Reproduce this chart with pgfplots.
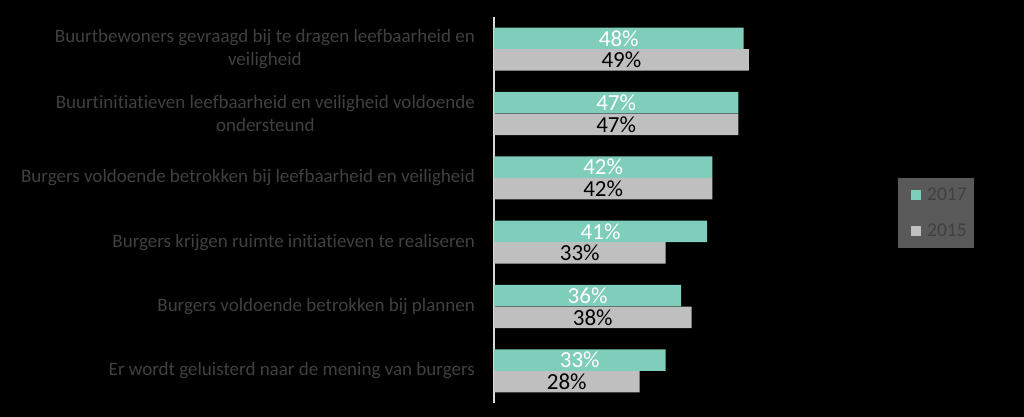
\documentclass[border=0pt]{standalone}
\usepackage{fontspec}
\setmainfont{Carlito}[Ligatures=CommonOff]
\usepackage{pgfplots}
\usepackage{pgfplotstable}
\pgfplotsset{compat=1.18}

\definecolor{c17}{RGB}{127,205,187}
\definecolor{c15}{RGB}{191,191,191}
\definecolor{lbl}{RGB}{64,64,64}
\definecolor{legbg}{RGB}{89,89,89}
\definecolor{axln}{RGB}{217,217,217}

\pgfplotstableread{
y  a   b
1  48  49
2  47  47
3  42  42
4  41  33
5  36  38
6  33  28
}\data

\pgfplotsset{
  sq legend/.style={legend image code/.code={%
    \fill[##1] (8pt,-5pt) rectangle (18pt,5pt);
    \path (0pt,0pt) (22pt,0pt);}},
}

\begin{document}
\begin{tikzpicture}
\fill[black] (0,0) rectangle (1024pt,417pt);
\begin{axis}[
  at={(494pt,14pt)}, anchor=south west,
  scale only axis, width=270.4pt, height=386pt,
  xmin=0, xmax=52, ymin=0.5, ymax=6.5, y dir=reverse,
  axis x line=none, axis y line*=left,
  axis line style={-, draw=axln, line width=1.6pt},
  ytick={1,2,3,4,5,6}, major tick length=0pt,
  yticklabels={{Buurtbewoners gevraagd bij te dragen leefbaarheid en\\veiligheid},
               {Buurtinitiatieven leefbaarheid en veiligheid voldoende\\ondersteund},
               {Burgers voldoende betrokken bij leefbaarheid en veiligheid},
               {Burgers krijgen ruimte initiatieven te realiseren},
               {Burgers voldoende betrokken bij plannen},
               {Er wordt geluisterd naar de mening van burgers}},
  yticklabel style={align=center, inner sep=0pt, xshift=-19pt, text=lbl,
                    font=\fontsize{19}{23}\selectfont},
  legend style={at={(1.494,0.583)}, anchor=north west, fill=legbg, draw=none,
                text=lbl, font=\fontsize{19.5}{22}\selectfont,
                inner xsep=5pt, inner ysep=8pt, row sep=18pt,
                legend cell align=left},
  clip=false,
]
\addplot[xbar, bar width=21.5pt, bar shift=0pt, fill=c17, draw=none, sq legend]
  table[x=a, y expr=\thisrow{y}-0.168]{\data};
\addlegendentry{2017}
\addplot[xbar, bar width=21.5pt, bar shift=0pt, fill=c15, draw=none, sq legend]
  table[x=b, y expr=\thisrow{y}+0.168]{\data};
\addlegendentry{2015}
\addplot[draw=none, mark=none, forget plot, point meta=explicit symbolic,
         nodes near coords={\pgfplotspointmeta\%},
         nodes near coords style={anchor=center, text=white, inner sep=0pt,
                                  font=\fontsize{23}{24}\selectfont}]
  table[x expr=\thisrow{a}/2, y expr=\thisrow{y}-0.168, meta=a]{\data};
\addplot[draw=none, mark=none, forget plot, point meta=explicit symbolic,
         nodes near coords={\pgfplotspointmeta\%},
         nodes near coords style={anchor=center, text=black, inner sep=0pt,
                                  font=\fontsize{23}{24}\selectfont}]
  table[x expr=\thisrow{b}/2, y expr=\thisrow{y}+0.168, meta=b]{\data};
\end{axis}
\pgfresetboundingbox
\useasboundingbox (0,0) rectangle (1024pt,417pt);
\end{tikzpicture}
\end{document}
